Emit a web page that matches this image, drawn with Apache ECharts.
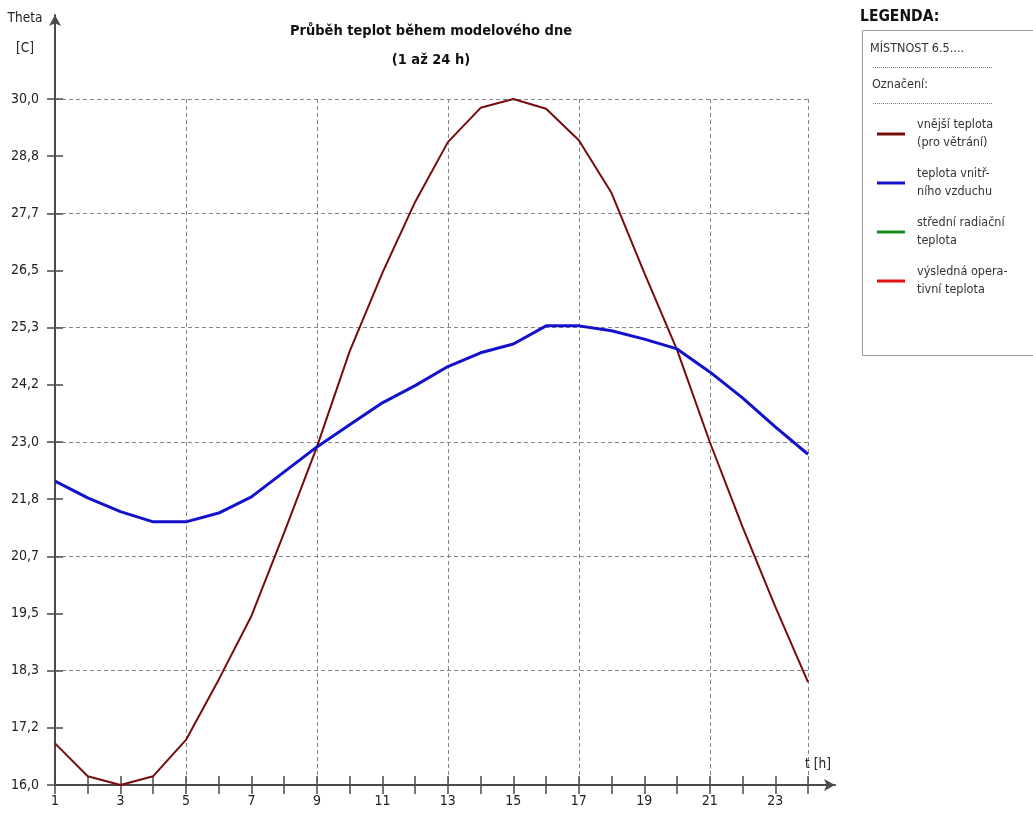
<!DOCTYPE html>
<html>
<head>
<meta charset="utf-8">
<script src="https://cdn.jsdelivr.net/npm/echarts@6/dist/echarts.min.js"></script>
<style>
  html, body { margin: 0; padding: 0; background: #fff; }
  #chart { width: 1033px; height: 817px; }
</style>
</head>
<body>
<div id="chart"></div>
<script>
const chart = echarts.init(document.getElementById('chart'))

const FONT = "'Liberation Sans Narrow', 'DejaVu Sans Condensed', 'Liberation Sans', sans-serif"

// hodiny modelového dne
const hours = [1, 2, 3, 4, 5, 6, 7, 8, 9, 10, 11, 12, 13, 14, 15, 16, 17, 18, 19, 20, 21, 22, 23, 24]
// vnější teplota (pro větrání)
const outdoorTemp = [16.85, 16.18, 16.0, 16.18, 16.92, 18.15, 19.45, 21.15, 22.9, 24.85, 26.45, 27.9,
  29.12, 29.82, 30.0, 29.8, 29.16, 28.08, 26.45, 24.88, 23.0, 21.27, 19.64, 18.1]
// teplota vnitřního vzduchu
const indoorTemp = [22.2, 21.86, 21.58, 21.37, 21.37, 21.55, 21.88, 22.39, 22.9, 23.35, 23.8, 24.15,
  24.54, 24.82, 25.0, 25.37, 25.37, 25.27, 25.1, 24.9, 24.43, 23.9, 23.31, 22.75]
// v grafu nevykresleno
const radiantTemp = []
const operativeTemp = []

const yMin = 16.0
const yMax = 30.0
const yStep = (yMax - yMin) / 12

const seriesNames = ['vnější teplota\n(pro větrání)', 'teplota vnitř-\nního vzduchu',
  'střední radiační\nteplota', 'výsledná opera-\ntivní teplota']

const pairs = (vals) => vals.map((v, i) => [hours[i], v])

const axisColor = '#4a4a4a'
const gridLine = { show: true, lineStyle: { color: '#858585', type: [4, 3], width: 1 } }

let option = {
  backgroundColor: '#fff',
  animation: false,
  textStyle: { fontFamily: FONT },
  title: {
    text: 'Průběh teplot během modelového dne',
    subtext: '(1 až 24 h)',
    left: 426,
    top: 19,
    textAlign: 'center',
    itemGap: 14,
    textStyle: { fontFamily: FONT, fontSize: 14.5, fontWeight: 'bold', color: '#111' },
    subtextStyle: { fontFamily: FONT, fontSize: 14.5, fontWeight: 'bold', color: '#111' }
  },
  grid: [
    { left: 55, right: 225, top: 99, bottom: 32 },
    { left: 55, right: 198, top: 15, bottom: 32 } // jen šipky os
  ],
  legend: {
    orient: 'vertical',
    left: 872,
    top: 111,
    itemWidth: 28,
    itemHeight: 3,
    itemGap: 13,
    icon: 'rect',
    selectedMode: false,
    data: seriesNames,
    textStyle: { fontFamily: FONT, fontSize: 12.5, lineHeight: 18, color: '#333', padding: [0, 0, 0, 7] }
  },
  graphic: [
    { type: 'text', left: 860, top: 9, style: { text: 'LEGENDA:', font: "bold 15.5px " + FONT, fill: '#111' } },
    { type: 'rect', shape: { x: 862.5, y: 30.5, width: 200, height: 325 }, style: { fill: '#fff', stroke: '#999', lineWidth: 1 }, z: -1 },
    { type: 'text', left: 870, top: 42, style: { text: 'MÍSTNOST 6.5....', font: "12.5px " + FONT, fill: '#333' } },
    { type: 'line', shape: { x1: 873, y1: 67.5, x2: 993, y2: 67.5 }, style: { stroke: '#777', lineDash: [1, 1], lineWidth: 1 } },
    { type: 'text', left: 872, top: 78, style: { text: 'Označení:', font: "12.5px " + FONT, fill: '#333' } },
    { type: 'line', shape: { x1: 873, y1: 103.5, x2: 993, y2: 103.5 }, style: { stroke: '#777', lineDash: [1, 1], lineWidth: 1 } }
  ],
  xAxis: [
    {
      gridIndex: 0, type: 'value', min: 1, max: 24, interval: 1, position: 'bottom',
      name: 't [h]', nameLocation: 'end', nameGap: 10,
      nameTextStyle: { fontFamily: FONT, fontSize: 13.5, color: '#222', align: 'center', verticalAlign: 'bottom', padding: [0, 0, 14, 0] },
      axisLine: { show: true, lineStyle: { color: axisColor, width: 2 } },
      axisTick: { show: true, inside: false, length: 9, lineStyle: { color: axisColor, width: 1.5 } },
      axisLabel: {
        margin: 9, fontSize: 14, color: '#222', fontFamily: FONT, showMinLabel: true, showMaxLabel: true,
        formatter: (v) => (v % 2 === 1 && v < 24 ? String(v) : '')
      },
      splitLine: { show: false }
    },
    {
      gridIndex: 0, type: 'value', min: 1, max: 24, interval: 1, position: 'bottom',
      axisLine: { show: false },
      axisTick: { show: true, inside: true, length: 9, lineStyle: { color: axisColor, width: 1.5 } },
      axisLabel: { show: false },
      splitLine: { show: false }
    },
    {
      gridIndex: 0, type: 'value', min: 1, max: 24, interval: 4, position: 'bottom',
      axisLine: { show: false }, axisTick: { show: false }, axisLabel: { show: false },
      splitLine: gridLine
    },
    {
      gridIndex: 1, type: 'value', min: 0, max: 1, position: 'bottom',
      axisLine: { show: true, symbol: ['none', 'arrow'], symbolSize: [9, 11], lineStyle: { color: axisColor, width: 2 } },
      axisTick: { show: false }, axisLabel: { show: false }, splitLine: { show: false }
    }
  ],
  yAxis: [
    {
      gridIndex: 0, type: 'value', min: yMin, max: yMax, interval: yStep, position: 'left',
      axisLine: { show: true, lineStyle: { color: axisColor, width: 2 } },
      axisTick: { show: true, inside: false, length: 8, lineStyle: { color: axisColor, width: 1.5 } },
      axisLabel: {
        margin: 16, fontSize: 14, color: '#222', fontFamily: FONT, showMinLabel: true, showMaxLabel: true,
        formatter: (v) => v.toFixed(1).replace('.', ',')
      },
      splitLine: { show: false }
    },
    {
      gridIndex: 0, type: 'value', min: yMin, max: yMax, interval: yStep, position: 'left',
      axisLine: { show: false },
      axisTick: { show: true, inside: true, length: 8, lineStyle: { color: axisColor, width: 1.5 } },
      axisLabel: { show: false },
      splitLine: { show: false }
    },
    {
      gridIndex: 0, type: 'value', min: yMin, max: yMax, interval: yStep * 2, position: 'left',
      axisLine: { show: false }, axisTick: { show: false }, axisLabel: { show: false },
      splitLine: gridLine
    },
    {
      gridIndex: 1, type: 'value', min: 0, max: 1, position: 'left',
      name: 'Theta\n[C]', nameLocation: 'end', nameGap: 12,
      nameTextStyle: { fontFamily: FONT, fontSize: 13.5, color: '#222', align: 'center', verticalAlign: 'top', lineHeight: 30, padding: [0, 60, 0, 0] },
      axisLine: { show: true, symbol: ['none', 'arrow'], symbolSize: [9, 11], lineStyle: { color: axisColor, width: 2 } },
      axisTick: { show: false }, axisLabel: { show: false }, splitLine: { show: false }
    }
  ],
  series: [
    {
      name: seriesNames[0], type: 'line', xAxisIndex: 0, yAxisIndex: 0,
      data: pairs(outdoorTemp), showSymbol: false, symbol: 'none',
      lineStyle: { color: '#760c0c', width: 2 }, itemStyle: { color: '#760c0c' }
    },
    {
      name: seriesNames[1], type: 'line', xAxisIndex: 0, yAxisIndex: 0,
      data: pairs(indoorTemp), showSymbol: false, symbol: 'none',
      lineStyle: { color: '#1212cc', width: 3 }, itemStyle: { color: '#1212cc' }
    },
    {
      name: seriesNames[2], type: 'line', xAxisIndex: 0, yAxisIndex: 0,
      data: pairs(radiantTemp), showSymbol: false,
      lineStyle: { color: '#1a8a1a', width: 3 }, itemStyle: { color: '#1a8a1a' }
    },
    {
      name: seriesNames[3], type: 'line', xAxisIndex: 0, yAxisIndex: 0,
      data: pairs(operativeTemp), showSymbol: false,
      lineStyle: { color: '#e01010', width: 3 }, itemStyle: { color: '#e01010' }
    }
  ]
}

chart.setOption(option)
</script>
</body>
</html>
